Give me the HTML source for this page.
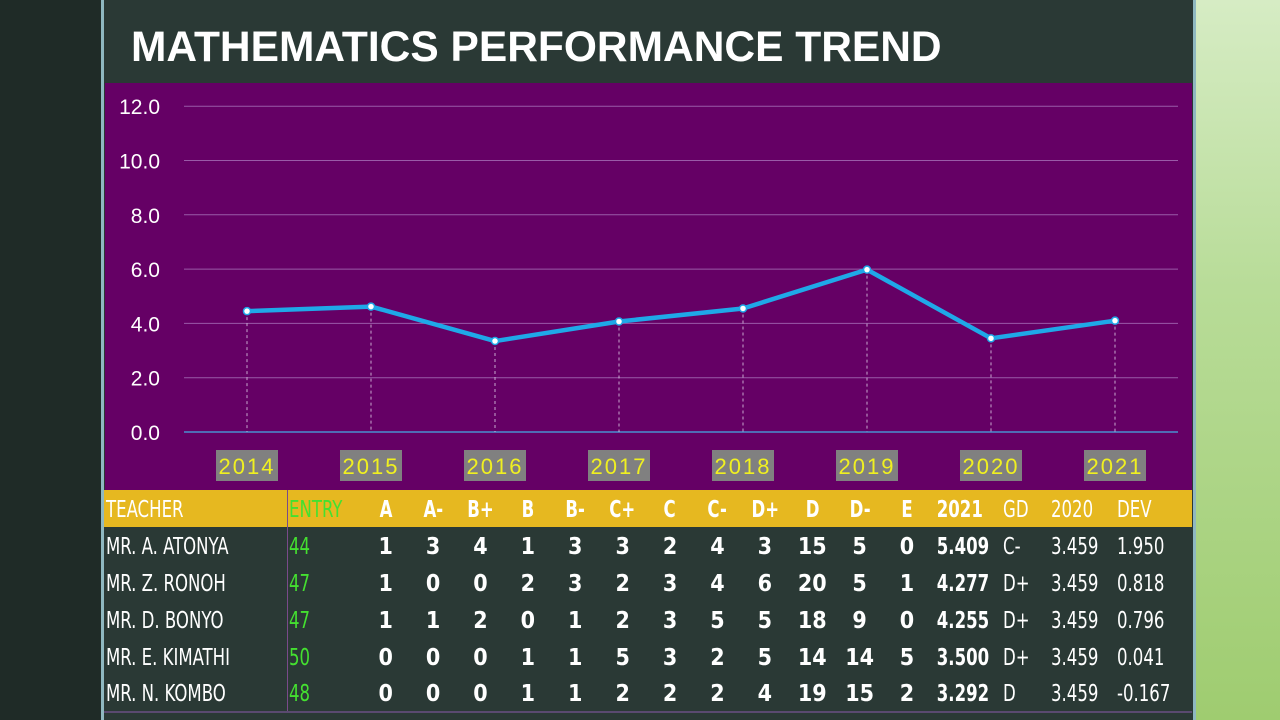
<!DOCTYPE html>
<html><head><meta charset="utf-8">
<style>
*{margin:0;padding:0;box-sizing:border-box}
body{width:1280px;height:720px;overflow:hidden;background:#1e2a26;position:relative;font-family:"Liberation Sans",sans-serif}
#leftpanel{position:absolute;left:0;top:0;width:101px;height:720px;background:#1f2b27}
#border{position:absolute;left:101px;top:0;width:3px;height:720px;background:#8fb8c0}
#main{position:absolute;left:104px;top:0;width:1091px;height:720px;background:#2a3935}
#rborder{position:absolute;left:1193px;top:0;width:3px;height:720px;background:#8fb8c0}
#right{position:absolute;left:1196px;top:0;width:84px;height:720px;background:linear-gradient(180deg,#d6ecc4 0%,#b8dc98 40%,#9fcc70 100%)}
#title{position:absolute;left:131px;top:24px;color:#fff;font-weight:bold;font-size:42.5px;letter-spacing:0px}
#chart{position:absolute;left:0;top:0}
table{position:absolute;left:104px;top:490px;width:1088px;border-collapse:collapse;font-family:"DejaVu Sans Condensed","Liberation Sans",sans-serif;font-stretch:condensed}
td{height:37px;color:#fff;font-size:23px;padding:2px 0 0 0;white-space:nowrap}
tr.hdr td{background:#e6b820;height:37px}
td.n{text-align:center;font-weight:bold}
td.name{padding-left:2px;border-right:1px solid #7a4a8a;transform-origin:left}
td.en{color:#44e030;padding-left:1px}
td.b{font-weight:bold}
.sq{display:inline-block;transform:scaleX(0.8);transform-origin:left}
.sqc{display:inline-block;transform:scaleX(0.8)}
tr.last td{border-bottom:2px solid #5a4a70}
</style></head><body>
<div id="leftpanel"></div>
<div id="border"></div>
<div id="main"></div>
<div id="rborder"></div>
<div id="right"></div>
<div id="title">MATHEMATICS PERFORMANCE TREND</div>
<svg id="chart" width="1280" height="720"></svg>

<table>
<colgroup><col style="width:183px"><col style="width:75px"><col span="12" style="width:47.4px"><col style="width:68px"><col style="width:48px"><col style="width:66px"><col></colgroup>
<tr class="hdr">
<td class="name"><span class="sq">TEACHER</span></td><td class="en"><span class="sq">ENTRY</span></td>
<td class="n"><span class="sqc">A</span></td><td class="n"><span class="sqc">A-</span></td><td class="n"><span class="sqc">B+</span></td><td class="n"><span class="sqc">B</span></td><td class="n"><span class="sqc">B-</span></td><td class="n"><span class="sqc">C+</span></td><td class="n"><span class="sqc">C</span></td><td class="n"><span class="sqc">C-</span></td><td class="n"><span class="sqc">D+</span></td><td class="n"><span class="sqc">D</span></td><td class="n"><span class="sqc">D-</span></td><td class="n"><span class="sqc">E</span></td>
<td class="b"><span class="sq">&nbsp;2021</span></td><td><span class="sq">GD</span></td><td><span class="sq">2020</span></td><td><span class="sq">DEV</span></td></tr>
<tr><td class="name"><span class="sq">MR. A. ATONYA</span></td><td class="en"><span class="sq">44</span></td><td class="n">1</td><td class="n">3</td><td class="n">4</td><td class="n">1</td><td class="n">3</td><td class="n">3</td><td class="n">2</td><td class="n">4</td><td class="n">3</td><td class="n">15</td><td class="n">5</td><td class="n">0</td><td class="b"><span class="sq">&nbsp;5.409</span></td><td><span class="sq">C-</span></td><td><span class="sq">3.459</span></td><td><span class="sq">1.950</span></td></tr>
<tr><td class="name"><span class="sq">MR. Z. RONOH</span></td><td class="en"><span class="sq">47</span></td><td class="n">1</td><td class="n">0</td><td class="n">0</td><td class="n">2</td><td class="n">3</td><td class="n">2</td><td class="n">3</td><td class="n">4</td><td class="n">6</td><td class="n">20</td><td class="n">5</td><td class="n">1</td><td class="b"><span class="sq">&nbsp;4.277</span></td><td><span class="sq">D+</span></td><td><span class="sq">3.459</span></td><td><span class="sq">0.818</span></td></tr>
<tr><td class="name"><span class="sq">MR. D. BONYO</span></td><td class="en"><span class="sq">47</span></td><td class="n">1</td><td class="n">1</td><td class="n">2</td><td class="n">0</td><td class="n">1</td><td class="n">2</td><td class="n">3</td><td class="n">5</td><td class="n">5</td><td class="n">18</td><td class="n">9</td><td class="n">0</td><td class="b"><span class="sq">&nbsp;4.255</span></td><td><span class="sq">D+</span></td><td><span class="sq">3.459</span></td><td><span class="sq">0.796</span></td></tr>
<tr><td class="name"><span class="sq">MR. E. KIMATHI</span></td><td class="en"><span class="sq">50</span></td><td class="n">0</td><td class="n">0</td><td class="n">0</td><td class="n">1</td><td class="n">1</td><td class="n">5</td><td class="n">3</td><td class="n">2</td><td class="n">5</td><td class="n">14</td><td class="n">14</td><td class="n">5</td><td class="b"><span class="sq">&nbsp;3.500</span></td><td><span class="sq">D+</span></td><td><span class="sq">3.459</span></td><td><span class="sq">0.041</span></td></tr>
<tr class="last"><td class="name"><span class="sq">MR. N. KOMBO</span></td><td class="en"><span class="sq">48</span></td><td class="n">0</td><td class="n">0</td><td class="n">0</td><td class="n">1</td><td class="n">1</td><td class="n">2</td><td class="n">2</td><td class="n">2</td><td class="n">4</td><td class="n">19</td><td class="n">15</td><td class="n">2</td><td class="b"><span class="sq">&nbsp;3.292</span></td><td><span class="sq">D</span></td><td><span class="sq">3.459</span></td><td><span class="sq">-0.167</span></td></tr>
</table>

<script>
const years = ["2014","2015","2016","2017","2018","2019","2020","2021"];
const means = [4.45, 4.62, 3.35, 4.07, 4.55, 5.98, 3.45, 4.1];
const yTicks = [0, 2, 4, 6, 8, 10, 12];

const NS = "http://www.w3.org/2000/svg";
const svg = document.getElementById("chart");
const X0 = 247, XSTEP = 124;
const xPos = i => X0 + i * XSTEP;
const yPos = v => 432 - v * 27.15;
function mk(tag, attrs){const e=document.createElementNS(NS,tag);for(const k in attrs)e.setAttribute(k,attrs[k]);svg.appendChild(e);return e;}

const bg = mk("rect",{x:105,y:83,width:1087,height:407,fill:"#650065"});



yTicks.forEach(t=>{
  if(t>0){
    const g = mk("line",{x1:184,x2:1178,y1:yPos(t),y2:yPos(t),stroke:"#9a5aa8","stroke-width":1});
    
    
  }
  const lb = mk("text",{x:160,y:yPos(t)+8,fill:"#fff","font-size":21,"text-anchor":"end","font-family":"Liberation Sans, sans-serif"});
  lb.textContent = t.toFixed(1);
  
  
});
const ax = mk("line",{x1:184,x2:1178,y1:yPos(0),y2:yPos(0),stroke:"#4a90d0","stroke-width":1.5});



years.forEach((y,i)=>{
  const d = mk("line",{x1:xPos(i),x2:xPos(i),y1:yPos(means[i]),y2:yPos(0),stroke:"#e0d0e8","stroke-width":0.8,"stroke-dasharray":"3,3"});
  
  
  const bx = mk("rect",{x:xPos(i)-31,y:450,width:62,height:31,fill:"#808080"});
  
  
  const tx = mk("text",{x:xPos(i),y:474,fill:"#f0f020","font-size":22,"text-anchor":"middle","letter-spacing":"2","font-family":"Liberation Sans, sans-serif"});
  tx.textContent = y;
  
  
});

const line = mk("polyline",{points:means.map((v,i)=>xPos(i)+","+yPos(v)).join(" "),fill:"none",stroke:"#1fa8e8","stroke-width":4.5,"stroke-linejoin":"round"});


means.forEach((v,i)=>{
  const c = mk("circle",{cx:xPos(i),cy:yPos(v),r:3.5,fill:"#fff",stroke:"#1fa8e8","stroke-width":1.5});
  
  
});
</script>
</body></html>
